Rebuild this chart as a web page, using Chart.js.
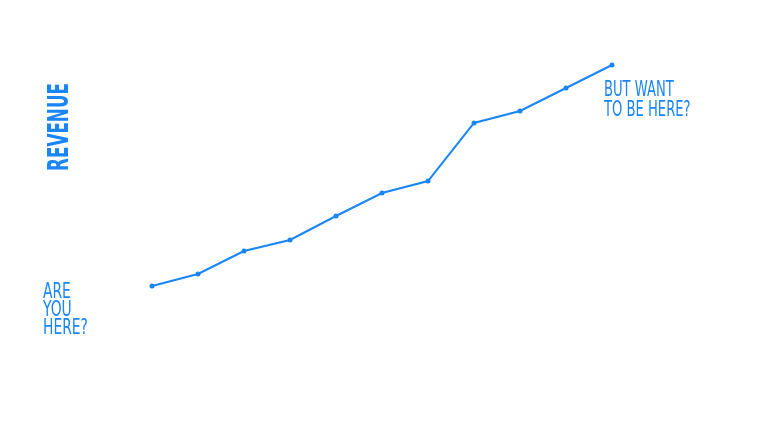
<!DOCTYPE html>
<html><head><meta charset="utf-8">
<script src="https://cdn.jsdelivr.net/npm/chart.js@4"></script>
<style>
html,body{margin:0;padding:0;background:#fff;width:768px;height:432px;overflow:hidden}
#wrap{position:relative;width:768px;height:432px}
.lbl{position:absolute;color:#1a85f5;font-family:"DejaVu Sans",sans-serif;line-height:18px;font-size:21px;white-space:nowrap;transform-origin:left top;transform:scaleX(0.66)}
#rev{position:absolute;left:58.5px;top:126.5px;transform:translate(-50%,-50%) rotate(-90deg) scaleX(0.6);color:#1a85f5;font-family:"DejaVu Sans",sans-serif;font-weight:bold;font-size:28px;white-space:nowrap;line-height:28px}
</style></head>
<body><div id="wrap">
<canvas id="c" width="768" height="432"></canvas>
<div id="rev">REVENUE</div>
<div class="lbl" id="l1" style="left:43px;top:282px">ARE<br>YOU<br>HERE?</div>
<div class="lbl" id="l2" style="left:604px;top:78.5px;line-height:20px;transform:scaleX(0.625)">BUT WANT<br>TO BE HERE?</div>
</div>
<script>
const periods = [0,1,2,3,4,5,6,7,8,9,10];
const revenue = [0,12,35,46,70,93,105,163,175,198,221];
const lineColor = '#1a85f5';
new Chart(document.getElementById('c'), {
  type: 'line',
  data: {
    datasets: [{
      data: periods.map((p,i)=>({x:p,y:revenue[i]})),
      borderColor: lineColor,
      backgroundColor: lineColor,
      borderWidth: 2,
      pointRadius: 2.5,
      pointBorderWidth: 0,
      tension: 0,
      clip: false
    }]
  },
  options: {
    responsive: false,
    animation: false,
    layout: {padding: {left:152, right:156, top:65, bottom:146}},
    plugins: {legend:{display:false}, tooltip:{enabled:false}},
    scales: {
      x: {type:'linear', min:0, max:10, display:false},
      y: {min:0, max:221, display:false}
    }
  }
});
</script>
</body></html>
